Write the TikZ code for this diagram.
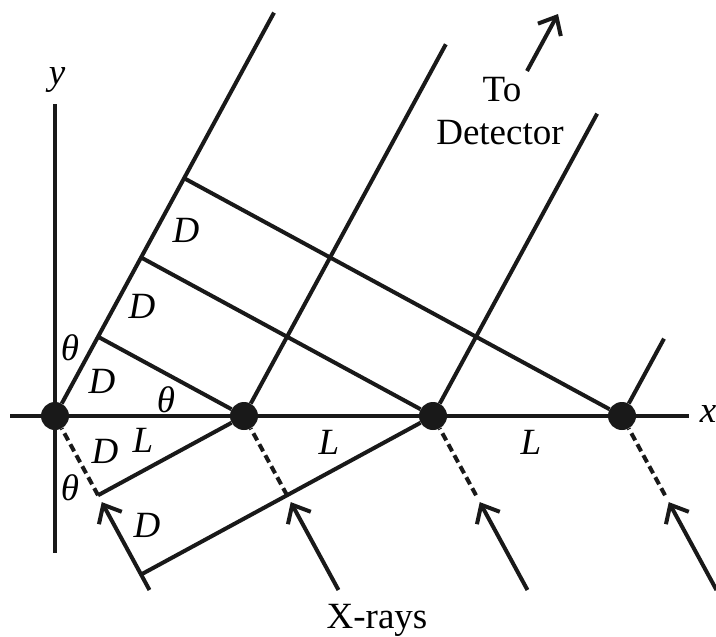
\documentclass[tikz,border=0pt]{standalone}
\usepackage{fontspec}
\setmainfont{Liberation Serif}
\usetikzlibrary{calc,arrows.meta}
\begin{document}
\begin{tikzpicture}[x=1pt,y=-1pt,
  ln/.style={line width=4pt,draw=black!90,line cap=butt},
  dsh/.style={ln,dash pattern=on 8pt off 4.5pt},
  arr/.style={ln,-{Straight Barb[length=15pt,width=26pt]}},
  atom/.style={circle,fill=black!90,minimum size=28pt,inner sep=0pt},
  lab/.style={font=\fontsize{37}{40}\selectfont\itshape,inner sep=0pt},
  txt/.style={font=\fontsize{37}{40}\selectfont,inner sep=0pt,align=center}]
\useasboundingbox (0,0) rectangle (716,637);
\def\D{90.2}
% axes
\coordinate (xl) at (10,416);
\coordinate (xr) at (689,416);
\coordinate (yt) at (55,104);
\coordinate (yb) at (55,553);
\draw[ln] (xl) -- (xr);
\draw[ln] (yt) -- (yb);
% atoms
\node[atom] (A0) at (55,416) {};
\node[atom] (A1) at (244,416) {};
\node[atom] (A2) at (433,416) {};
\node[atom] (A3) at (622,416) {};
% construction points
\coordinate (U1) at ($(A0.center)+(-61.5:\D)$);
\coordinate (U2) at ($(A0.center)+(-61.5:2*\D)$);
\coordinate (U3) at ($(A0.center)+(-61.5:3*\D)$);
\coordinate (W1) at ($(A0.center)+(61.5:\D)$);
\coordinate (W2) at ($(A0.center)+(61.5:2*\D)$);
\coordinate (R0) at ($(A0.center)+(-61.5:459)$);
\coordinate (R1) at ($(A1.center)+(-61.5:423)$);
\coordinate (R2) at ($(A2.center)+(-61.5:344)$);
\coordinate (R3) at ($(A3.center)+(-61.5:88)$);
\foreach \k in {0,1,2,3}{
  \coordinate (E\k) at ($(A\k.center)+(61.5:\D)$);
  \coordinate (H\k) at ($(A\k.center)+(61.5:98)$);
  \coordinate (T\k) at ($(A\k.center)+(61.5:198)$);
}
% outgoing rays
\draw[ln] (A0) -- (R0);
\draw[ln] (A1) -- (R1);
\draw[ln] (A2) -- (R2);
\draw[ln] (A3) -- (R3);
% wavefronts (upper)
\draw[ln] (A1) -- (U1);
\draw[ln] (A2) -- (U2);
\draw[ln] (A3) -- (U3);
% wavefronts (lower)
\draw[ln] (A1) -- (W1);
\draw[ln] (A2) -- (W2);
% incoming rays
\foreach \k in {0,1,2,3}{
  \draw[dsh] (E\k) -- (A\k);
  \draw[arr] (T\k) -- (H\k);
}
% detector arrow
\coordinate (dt) at (527,71);
\coordinate (dh) at (558,14);
\draw[arr] (dt) -- (dh);
% labels
\node[lab] (ly) at (57,80) {y};
\node[lab] (lx) at (708,414) {x};
\node[lab] (th1) at (70,348) {θ};
\node[lab] (th2) at (166,400) {θ};
\node[lab] (th3) at (70,488) {θ};
\node[lab] (d1) at (102,381) {D};
\node[lab] (d2) at (142,306) {D};
\node[lab] (d3) at (186,230) {D};
\node[lab] (d4) at (105,451) {D};
\node[lab] (d5) at (147,525) {D};
\node[lab] (l1) at (143,440) {L};
\node[lab] (l2) at (329,442) {L};
\node[lab] (l3) at (531,442) {L};
\node[txt] (to) at (502,90) {To};
\node[txt] (det) at (500,133) {Detector};
\node[txt] (xr) at (377,620) {X-rays};
\end{tikzpicture}
\end{document}
